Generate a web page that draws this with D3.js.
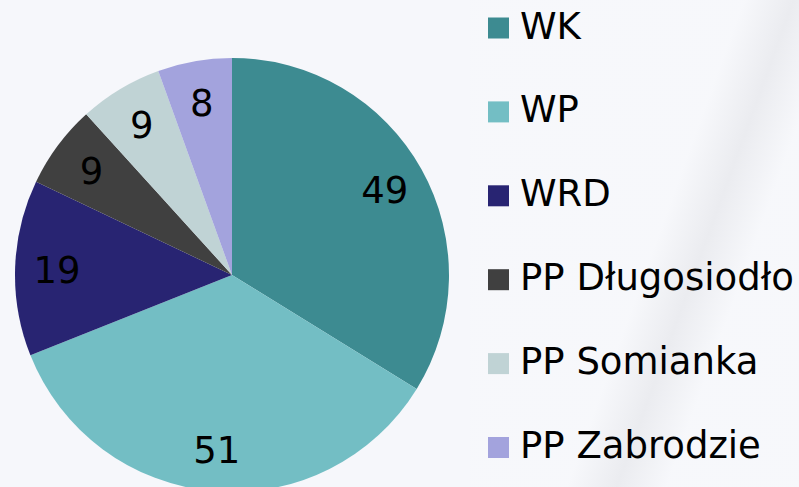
<!DOCTYPE html>
<html>
<head>
<meta charset="utf-8">
<script src="https://cdn.jsdelivr.net/npm/d3@7"></script>
<style>
  html, body { margin: 0; padding: 0; background: #f6f7fb; }
  svg { display: block; font-family: "DejaVu Sans", Verdana, sans-serif; }
</style>
</head>
<body>
<svg id="chart"></svg>
<script>
// data
var categories = ["WK", "WP", "WRD", "PP Długosiodło", "PP Somianka", "PP Zabrodzie"]
var values = [49, 51, 19, 9, 9, 8]
var colors = ["#3d8b91", "#73bec4", "#282472", "#404040", "#c0d3d5", "#a3a3dd"]

var screen = {width: 799, height: 487}
var pie = {cx: 232, cy: 275, r: 217, labelR: 175}

var svg = d3.select("#chart")
    .attr("width", screen.width)
    .attr("height", screen.height)

// faint background swoosh running from top right down to bottom left
var defs = svg.append("defs")
var grad = defs.append("linearGradient")
    .attr("id", "bg")
    .attr("gradientUnits", "userSpaceOnUse")
    .attr("x1", 600).attr("y1", 190)
    .attr("x2", 820).attr("y2", 270)
grad.append("stop").attr("offset", "0.3").attr("stop-color", "#f7f8fb")
grad.append("stop").attr("offset", "0.5").attr("stop-color", "#e8e9ed")
grad.append("stop").attr("offset", "0.7").attr("stop-color", "#f7f8fb")

svg.append("rect")
    .attr("width", screen.width)
    .attr("height", screen.height)
    .attr("fill", "#f6f7fb")
svg.append("rect")
    .attr("x", 470)
    .attr("width", screen.width - 470)
    .attr("height", screen.height)
    .attr("fill", "url(#bg)")
    .attr("opacity", 0.8)

var color = d3.scaleOrdinal()
    .domain(categories)
    .range(colors)

var pieGen = d3.pie()
    .sort(null)
    .value(function(d){ return d.value })

var data = categories.map(function(c, i){ return {name: c, value: values[i]} })
var arcs = pieGen(data)

var arc = d3.arc().innerRadius(0).outerRadius(pie.r)
var labelArc = d3.arc().innerRadius(pie.labelR).outerRadius(pie.labelR)

var g = svg.append("g")
    .attr("transform", "translate(" + pie.cx + "," + pie.cy + ")")

g.selectAll("path")
    .data(arcs)
    .enter()
    .append("path")
    .attr("d", arc)
    .attr("fill", function(d){ return color(d.data.name) })

g.selectAll("text")
    .data(arcs)
    .enter()
    .append("text")
    .attr("transform", function(d){ return "translate(" + labelArc.centroid(d) + ")" })
    .attr("text-anchor", "middle")
    .attr("dy", "0.36em")
    .attr("font-size", 37)
    .attr("fill", "#000")
    .text(function(d){ return d.data.value })

// legend
var legend = svg.append("g")
    .attr("transform", "translate(488,17.5)")

var item = legend.selectAll("g")
    .data(categories)
    .enter()
    .append("g")
    .attr("transform", function(d, i){ return "translate(0," + (i * 83.9) + ")" })

item.append("rect")
    .attr("width", 21)
    .attr("height", 21)
    .attr("fill", function(d){ return color(d) })

item.append("text")
    .attr("x", 32)
    .attr("y", 21)
    .attr("font-size", 37)
    .attr("fill", "#000")
    .text(function(d){ return d })
</script>
</body>
</html>
